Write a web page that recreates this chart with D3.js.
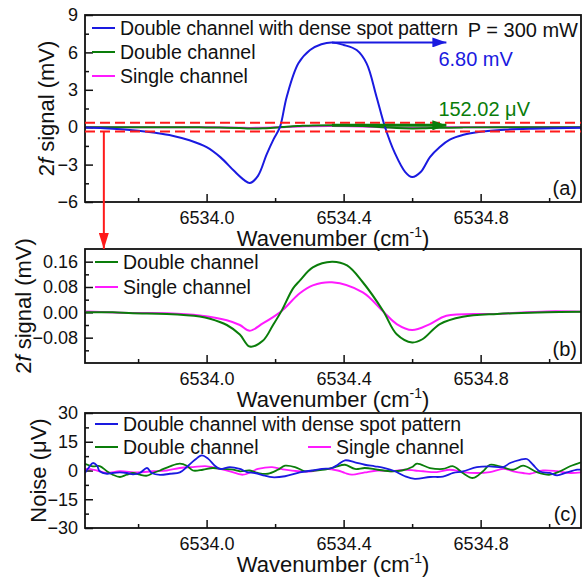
<!DOCTYPE html>
<html>
<head>
<meta charset="utf-8">
<script src="https://cdnjs.cloudflare.com/ajax/libs/d3/7.8.5/d3.min.js"></script>
<style>
  body { margin: 0; background: #fff; }
  svg { font-family: Arial, "Liberation Sans", sans-serif; }
  .tick text { font-size: 18px; fill: #111; }
  .axis-title { font-size: 22px; fill: #111; }
  .legend-text { font-size: 19.5px; fill: #111; }
  .note { font-size: 20px; }
</style>
</head>
<body>
<div id="chart"></div>
<script>

//////////////////// Data ////////////////////

// wavenumber ticks (cm-1)
var xMajor = [6534.0, 6534.4, 6534.8];
var xMinor = [6533.8, 6534.2, 6534.6, 6535.0];
var xDomain = [6533.645, 6535.093];

// y ticks per panel
var yMajorA = [-6, -3, 0, 3, 6, 9],            yMinorA = [-4.5, -1.5, 1.5, 4.5, 7.5];
var yMajorB = [-0.08, 0.00, 0.08, 0.16],       yMinorB = [-0.12, -0.04, 0.04, 0.12];
var yMajorC = [-30, -15, 0, 15, 30],           yMinorC = [-22.5, -7.5, 7.5, 22.5];

var seriesNames = ["Double channel with dense spot pattern", "Double channel", "Single channel"];

// 2f signal, mV  [wavenumber, value]
var denseSignal = [[6533.645,-0.03],[6533.70,-0.08],[6533.75,-0.16],[6533.80,-0.28],[6533.85,-0.45],[6533.90,-0.68],
  [6533.95,-1.05],[6534.00,-1.6],[6534.04,-2.4],[6534.08,-3.5],[6534.11,-4.25],[6534.126,-4.48],[6534.15,-3.9],
  [6534.175,-2.2],[6534.195,-1.0],[6534.214,0],[6534.234,2.45],[6534.268,5.12],[6534.302,6.19],[6534.335,6.65],
  [6534.365,6.80],[6534.40,6.6],[6534.438,6.19],[6534.467,5.12],[6534.496,2.45],[6534.521,0],[6534.55,-2.1],
  [6534.58,-3.6],[6534.60,-4.0],[6534.625,-3.6],[6534.652,-2.4],[6534.68,-1.6],[6534.71,-1.0],[6534.75,-0.6],
  [6534.80,-0.36],[6534.87,-0.2],[6534.95,-0.12],[6535.093,-0.05]];

var doubleSignal = [[6533.648,0.0],[6533.726,0.0],[6533.785,-0.003],[6533.884,-0.005],[6533.98,-0.013],[6534.01,-0.02],
  [6534.059,-0.04],[6534.097,-0.07],[6534.126,-0.108],[6534.164,-0.09],[6534.194,-0.04],[6534.22,0.007],[6534.252,0.075],
  [6534.272,0.10],[6534.31,0.142],[6534.366,0.16],[6534.41,0.148],[6534.456,0.095],[6534.515,0.005],[6534.555,-0.069],
  [6534.60,-0.095],[6534.63,-0.085],[6534.681,-0.037],[6534.748,-0.014],[6534.848,-0.005],[6534.994,0.0],[6535.093,0.002]];

var singleSignal = [[6533.648,0.003],[6533.785,-0.002],[6533.884,-0.003],[6533.98,-0.01],[6534.059,-0.025],[6534.097,-0.04],
  [6534.126,-0.058],[6534.164,-0.035],[6534.194,-0.015],[6534.22,0.005],[6534.272,0.06],[6534.31,0.085],[6534.366,0.095],
  [6534.456,0.063],[6534.515,0.003],[6534.555,-0.037],[6534.60,-0.056],[6534.652,-0.037],[6534.70,-0.011],
  [6534.848,-0.005],[6534.994,0.003],[6535.093,0.002]];

// noise, uV  [wavenumber, value]
var denseNoise = [[6533.645,-1.3],[6533.655,1.3],[6533.668,3.9],[6533.680,2.5],[6533.688,-0.4],[6533.709,-1.7],[6533.726,-1.3],
  [6533.747,-1.0],[6533.767,-1.3],[6533.785,-2.0],[6533.805,-1.3],[6533.826,1.3],[6533.840,-1.3],[6533.864,-2.3],[6533.893,-1.7],
  [6533.922,-1.0],[6533.942,1.8],[6533.966,5.6],[6533.986,7.9],[6534.004,6.2],[6534.024,2.5],[6534.039,0.8],[6534.068,1.8],
  [6534.097,0.8],[6534.118,-0.8],[6534.141,-1.3],[6534.170,-2.7],[6534.191,-3.5],[6534.229,-3.0],[6534.272,-1.0],[6534.307,0],
  [6534.337,0.8],[6534.366,1.3],[6534.383,3.0],[6534.404,5.3],[6534.433,4.3],[6534.462,3.0],[6534.491,2.2],[6534.520,1.3],
  [6534.550,-0.4],[6534.579,-3.0],[6534.608,-4.4],[6534.652,-3.4],[6534.690,-3.2],[6534.720,-1.3],[6534.748,-0.5],[6534.789,1.8],
  [6534.827,2.2],[6534.866,1.8],[6534.886,3.9],[6534.915,5.6],[6534.935,6.0],[6534.953,3.0],[6534.973,-0.5],[6535.002,-1.3],
  [6535.023,-2.5],[6535.052,-1.0],[6535.082,0.4],[6535.093,0.5]];

var doubleNoise = [[6533.645,3.5],[6533.668,2.2],[6533.688,2.3],[6533.709,-0.4],[6533.726,-2.2],[6533.747,-3.4],[6533.767,-2.2],
  [6533.785,-1.3],[6533.805,-2.2],[6533.826,-2.7],[6533.843,-1.3],[6533.864,0],[6533.893,2.2],[6533.922,3.6],[6533.942,2.5],
  [6533.960,0],[6533.989,0.4],[6534.018,1.3],[6534.048,0.8],[6534.077,0.4],[6534.097,-0.4],[6534.126,0],[6534.150,-1.3],
  [6534.179,-1.7],[6534.208,0.4],[6534.229,2.5],[6534.258,1.8],[6534.287,-0.4],[6534.316,0],[6534.345,0.4],[6534.375,1.8],
  [6534.404,3.0],[6534.433,0.8],[6534.462,1.3],[6534.500,0.4],[6534.541,-0.4],[6534.570,0],[6534.600,1.8],[6534.614,3.6],
  [6534.652,1.3],[6534.690,0.8],[6534.720,2.2],[6534.748,-1.3],[6534.778,-3.9],[6534.807,-0.4],[6534.827,3.0],[6534.856,2.2],
  [6534.895,0.4],[6534.924,2.5],[6534.964,-0.8],[6535.002,-2.2],[6535.032,-0.4],[6535.061,2.2],[6535.093,4.3]];

var singleNoise = [[6533.645,0.4],[6533.650,0.8],[6533.680,0],[6533.709,-1.3],[6533.747,-0.4],[6533.797,-1.0],[6533.843,-0.4],
  [6533.884,0],[6533.922,1.3],[6533.960,1.8],[6534.001,2.2],[6534.039,0.8],[6534.068,-0.4],[6534.106,-2.2],[6534.150,0.8],
  [6534.191,1.8],[6534.229,0.4],[6534.267,-0.4],[6534.307,-0.4],[6534.345,0.8],[6534.383,0],[6534.404,-1.3],[6534.424,-2.2],
  [6534.462,-1.0],[6534.500,0],[6534.541,-0.4],[6534.579,0.4],[6534.608,0],[6534.632,-0.4],[6534.672,-0.8],[6534.710,0.4],
  [6534.748,-0.8],[6534.789,-1.3],[6534.827,-0.8],[6534.866,0.8],[6534.895,-0.4],[6534.924,-1.3],[6534.944,-1.7],[6534.982,0],
  [6535.023,-0.4],[6535.061,-1.3],[6535.093,-1.0]];

// annotations
var densePeak = 6.80;       // mV
var doublePeak = 0.15202;   // mV
var peakPos = 6534.366;
var arrowEnd = 6534.70;
var bandLevel = 0.35;       // mV, red dashed band
var dropPos = 6533.70;

var colBlue = "#1a1ae0", colGreen = "#0a7d0a", colPink = "#ff1aff", colRed = "#ff1a1a";

//////////////////// SVG ////////////////////

var W = 582, H = 577;
var svg = d3.select("#chart").append("svg")
    .attr("width", W).attr("height", H);

svg.append("rect").attr("width", W).attr("height", H).attr("fill", "#fff");

var defs = svg.append("defs");
function marker(id, color, w, l) {
  defs.append("marker")
    .attr("id", id).attr("viewBox", "0 0 " + l + " " + w)
    .attr("refX", l).attr("refY", w/2)
    .attr("markerWidth", l).attr("markerHeight", w)
    .attr("markerUnits", "userSpaceOnUse")
    .attr("orient", "auto")
    .append("path").attr("d", "M0,0L" + l + "," + (w/2) + "L0," + w + "Z").attr("fill", color);
}
marker("headBlue", colBlue, 10, 14);
marker("headGreen", colGreen, 10, 14);
marker("headRed", colRed, 10, 16);

var x = d3.scaleLinear().domain(xDomain).range([85, 581]);
var smooth = d3.curveCatmullRom.alpha(0.5);

function makePanel(cfg) {
  var y = d3.scaleLinear().domain(cfg.yDomain).range([cfg.bottom, cfg.top]);
  var g = svg.append("g");

  defs.append("clipPath").attr("id", "clip" + cfg.id)
    .append("rect").attr("x", x.range()[0]).attr("y", cfg.top)
    .attr("width", x.range()[1] - x.range()[0]).attr("height", cfg.bottom - cfg.top);

  // x axis, ticks pointing inward
  g.append("g").attr("transform", "translate(0," + cfg.bottom + ")")
    .call(d3.axisBottom(x).tickValues(xMajor).tickSize(-8).tickSizeOuter(0).tickPadding(9).tickFormat(d3.format(".1f")))
    .call(styleAxis);
  g.append("g").attr("transform", "translate(0," + cfg.bottom + ")")
    .call(d3.axisBottom(x).tickValues(xMinor).tickSize(-4).tickSizeOuter(0).tickFormat(""))
    .call(styleAxis);

  // y axis
  g.append("g").attr("transform", "translate(" + x.range()[0] + ",0)")
    .call(d3.axisLeft(y).tickValues(cfg.yMajor).tickSize(-8).tickSizeOuter(0).tickPadding(7).tickFormat(cfg.fmt))
    .call(styleAxis);
  g.append("g").attr("transform", "translate(" + x.range()[0] + ",0)")
    .call(d3.axisLeft(y).tickValues(cfg.yMinor).tickSize(-4).tickSizeOuter(0).tickFormat(""))
    .call(styleAxis);

  // lines
  var plot = g.append("g").attr("clip-path", "url(#clip" + cfg.id + ")");
  cfg.lines.forEach(function(s) {
    plot.append("path").datum(s.data)
      .attr("fill", "none").attr("stroke", s.color).attr("stroke-width", s.width || 2)
      .attr("stroke-linejoin", "round")
      .attr("d", d3.line().x(function(d) { return x(d[0]); }).y(function(d) { return y(d[1]); }).curve(smooth));
  });

  // frame
  g.append("rect").attr("x", x.range()[0]).attr("y", cfg.top)
    .attr("width", x.range()[1] - x.range()[0]).attr("height", cfg.bottom - cfg.top)
    .attr("fill", "none").attr("stroke", "#111").attr("stroke-width", 1.8);

  // x title
  var t = g.append("text").attr("class", "axis-title")
    .attr("x", (x.range()[0] + x.range()[1]) / 2).attr("y", cfg.xTitleY)
    .attr("text-anchor", "middle");
  t.append("tspan").text("Wavenumber (cm");
  t.append("tspan").attr("dy", -9).style("font-size", "14px").text("-1");
  t.append("tspan").attr("dy", 9).text(")");

  // y title
  var yt = g.append("text").attr("class", "axis-title")
    .attr("transform", "translate(" + cfg.yTitleX + "," + ((cfg.top + cfg.bottom) / 2) + ") rotate(-90)")
    .attr("text-anchor", "middle");
  cfg.yTitle.forEach(function(p) {
    yt.append("tspan").style("font-style", p.italic ? "italic" : "normal").text(p.text);
  });

  // panel tag
  g.append("text").attr("class", "note").attr("x", 577).attr("y", cfg.bottom - 7)
    .attr("text-anchor", "end").attr("fill", "#111").text(cfg.tag);

  // legend
  cfg.legend.forEach(function(l) {
    g.append("line").attr("x1", l.x).attr("x2", l.x + 23).attr("y1", l.y).attr("y2", l.y)
      .attr("stroke", l.color).attr("stroke-width", 2);
    var lt = g.append("text").attr("class", "legend-text").attr("x", l.x + 28).attr("y", l.y).attr("dy", "0.35em").text(l.text);
    if (l.fit) lt.attr("textLength", l.fit).attr("lengthAdjust", "spacing");
  });

  return {g: g, y: y};
}

function styleAxis(sel) {
  sel.select(".domain").remove();
  sel.selectAll(".tick line").attr("stroke", "#111").attr("stroke-width", 1.5);
  sel.selectAll(".tick text").attr("fill", "#111").style("font-size", "18px");
}

var f0 = function(d) { return d3.format("d")(d); };

//////////////////// Panel (a) ////////////////////
var pa = makePanel({
  id: "a", top: 15, bottom: 202, yDomain: [-6, 9], yMajor: yMajorA, yMinor: yMinorA, fmt: f0,
  xTitleY: 246, yTitleX: 54, tag: "(a)",
  yTitle: [{text: "2"}, {text: "f", italic: true}, {text: " signal (mV)"}],
  lines: [
    {data: singleSignal, color: colPink},
    {data: doubleSignal, color: colGreen},
    {data: denseSignal, color: colBlue}
  ],
  legend: [
    {x: 92, y: 28, color: colBlue, text: seriesNames[0], fit: 338},
    {x: 92, y: 52, color: colGreen, text: seriesNames[1]},
    {x: 92, y: 76, color: colPink, text: seriesNames[2]}
  ]
});

// red dashed band
[bandLevel, -bandLevel].forEach(function(v) {
  pa.g.append("line").attr("x1", x.range()[0]).attr("x2", x.range()[1])
    .attr("y1", pa.y(v)).attr("y2", pa.y(v))
    .attr("stroke", colRed).attr("stroke-width", 2).attr("stroke-dasharray", "10,5");
});

// peak arrows
pa.g.append("line").attr("x1", x(peakPos)).attr("x2", x(arrowEnd))
  .attr("y1", pa.y(densePeak)).attr("y2", pa.y(densePeak))
  .attr("stroke", colBlue).attr("stroke-width", 2).attr("marker-end", "url(#headBlue)");
pa.g.append("text").attr("class", "note").attr("x", x(arrowEnd) - 8).attr("y", pa.y(densePeak) + 24)
  .attr("fill", colBlue).text(d3.format(".2f")(densePeak) + " mV");

pa.g.append("line").attr("x1", x(peakPos)).attr("x2", x(arrowEnd))
  .attr("y1", pa.y(doublePeak)).attr("y2", pa.y(doublePeak))
  .attr("stroke", colGreen).attr("stroke-width", 3).attr("marker-end", "url(#headGreen)");
pa.g.append("text").attr("class", "note").attr("x", x(arrowEnd) - 8).attr("y", pa.y(doublePeak) - 9)
  .attr("fill", colGreen).text(d3.format(".2f")(doublePeak * 1000) + " \u03bcV");

pa.g.append("text").attr("class", "note").attr("x", 578).attr("y", 37).attr("text-anchor", "end")
  .attr("fill", "#111").text("P = 300 mW");

//////////////////// Panel (b) ////////////////////
var pb = makePanel({
  id: "b", top: 249, bottom: 363, yDomain: [-0.16, 0.20], yMajor: yMajorB, yMinor: yMinorB, fmt: d3.format(".2f"),
  xTitleY: 407, yTitleX: 31, tag: "(b)",
  yTitle: [{text: "2"}, {text: "f", italic: true}, {text: " signal (mV)"}],
  lines: [
    {data: singleSignal, color: colPink},
    {data: doubleSignal, color: colGreen}
  ],
  legend: [
    {x: 95, y: 262, color: colGreen, text: seriesNames[1]},
    {x: 95, y: 287, color: colPink, text: seriesNames[2]}
  ]
});

// red drop arrow from band in (a) into (b)
svg.append("line").attr("x1", x(dropPos)).attr("x2", x(dropPos))
  .attr("y1", pa.y(-bandLevel)).attr("y2", pb.y(0.20))
  .attr("stroke", colRed).attr("stroke-width", 2).attr("marker-end", "url(#headRed)");

//////////////////// Panel (c) ////////////////////
makePanel({
  id: "c", top: 413, bottom: 528, yDomain: [-30, 30], yMajor: yMajorC, yMinor: yMinorC, fmt: f0,
  xTitleY: 572, yTitleX: 46, tag: "(c)",
  yTitle: [{text: "Noise (\u03bcV)"}],
  lines: [
    {data: singleNoise, color: colPink, width: 1.8},
    {data: doubleNoise, color: colGreen, width: 1.8},
    {data: denseNoise, color: colBlue, width: 1.8}
  ],
  legend: [
    {x: 95, y: 424, color: colBlue, text: seriesNames[0], fit: 338},
    {x: 95, y: 447, color: colGreen, text: seriesNames[1]},
    {x: 308, y: 447, color: colPink, text: seriesNames[2]}
  ]
});

</script>
</body>
</html>
